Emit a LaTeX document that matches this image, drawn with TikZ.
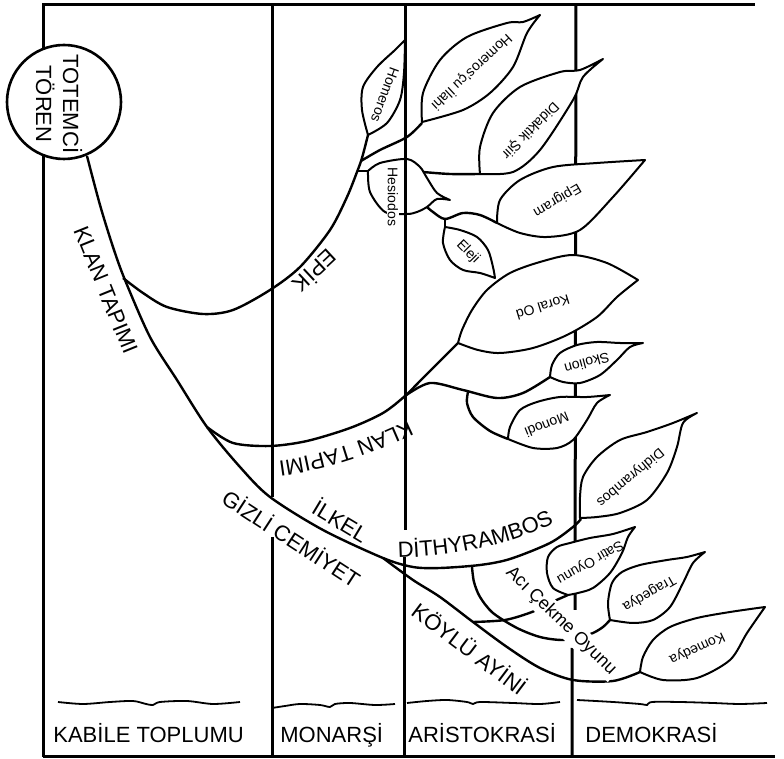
\documentclass[tikz,border=0pt]{standalone}
\usepackage{fontspec}
\setmainfont{Liberation Sans}
\usetikzlibrary{decorations.text}
\newcommand{\bigtxt}{\fontsize{11}{13.5}\selectfont}
\newcommand{\leaftxt}{\fontsize{7}{8}\selectfont}

\begin{document}
\begin{tikzpicture}[x=0.5pt, y=-0.5pt,
    frame/.style={line width=1.5pt},
    branch/.style={line width=1.2pt, line join=round},
    leaf/.style={draw, line width=1pt, fill=white, line join=round},
    wave/.style={line width=0.9pt},
    period/.style={font=\bigtxt, anchor=base west, inner sep=0pt},
    biglbl/.style={font=\bigtxt, inner sep=1pt},
    leaflbl/.style={font=\leaftxt, inner sep=0.5pt}]

    \useasboundingbox (0,0) rectangle (784,759);

    %% -- frame and period columns --
    \draw[frame] (43,757) -- (43,5) -- (755,5);
    \draw[frame] (43,757) -- (775,757);
    \draw[frame] (272,5) -- (272,497) (272,537) -- (272,757);
    \draw[frame] (405,5) -- (405,530) (404,557) -- (404,757);
    \draw[frame] (576,5) -- (575,610) (572,648) -- (572,757);

    %% -- ground lines --
    \draw[wave] plot[smooth] coordinates {(58,702) (83,704) (110,702) (133,701) (146,704) (153,705) (160,702) (187,701) (213,704) (240,702)};
    \draw[wave] plot[smooth] coordinates {(272,708) (285,706) (300,704) (320,705) (330,707) (335,704) (350,703) (375,705) (395,704)};
    \draw[wave] plot[smooth] coordinates {(407,703) (427,701) (447,700) (467,702) (473,704) (480,702) (513,703) (540,704) (560,702)};
    \draw[wave] plot[smooth] coordinates {(577,700) (613,702) (640,704) (647,705) (652,702) (680,702) (713,703) (740,704) (767,703)};

    %% -- totem circle --
    \node[circle, draw, fill=white, line width=1.3pt, minimum size=57pt, inner sep=0pt] (totem) at (64,102) {};
    \node[biglbl, rotate=-90, align=center] (totemtxt) at (59,104) {TOTEMCİ\\TÖREN};

    %% -- main stems --
    \draw[branch] plot[smooth] coordinates {(87,156) (100,205) (113,247) (125,280) (150,337) (177,380) (207,427) (240,467) (270,497) (323,530) (383,558) (413,567) (440,568) (480,565) (510,559) (550,543) (573,527) (581,519)};
    \draw[branch] plot[smooth] coordinates {(123,278) (143,293) (167,307) (203,314) (233,310) (270,290) (300,267) (330,230) (347,197) (357,172) (362,158) (368,135)};
    \draw[branch] plot[smooth] coordinates {(207,427) (233,443) (270,446) (307,441) (350,428) (383,413) (405,396) (420,381) (440,361) (458,343)};
    \draw[branch] plot[smooth] coordinates {(383,558) (413,580) (440,597) (473,622) (507,647) (540,668) (573,680) (613,681) (640,672)};

    %% -- side stems --
    \draw[branch] (357,171) -- (368,171);
    \draw[branch] plot[smooth] coordinates {(361,161) (380,150) (407,137) (422,123)};
    \draw[branch] plot[smooth] coordinates {(423,172) (450,174) (480,174)};
    \draw[branch] plot[smooth] coordinates {(427,207) (433,212) (445,219) (463,213) (480,215) (497,223)};
    \draw[branch] (445,219) -- (445,227);
    \draw[branch] plot[smooth] coordinates {(405,396) (430,383) (463,390) (497,398) (523,393) (550,377)};
    \draw[branch] plot[smooth] coordinates {(468,392) (467,403) (473,417) (490,431) (508,439)};
    \draw[branch] plot[smooth] coordinates {(473,622) (505,620) (532,612) (550,603) (568,595)};
    \draw[branch] plot[smooth] coordinates {(472,567) (474,582) (480,597) (493,613) (517,628) (540,637) (562,640) (580,637) (593,633) (603,627) (610,620)};

    %% -- leaves --
    \draw[leaf] plot[smooth] coordinates {(368,135) (362,110) (363,87) (377,67) (395,50) (405,40)}
        -- plot[smooth] coordinates {(405,40) (404,73) (400,100) (387,123) (368,135)} -- cycle;
    \draw[leaf] plot[smooth] coordinates {(422,122) (423,93) (440,60) (467,37) (507,23) (523,22) (540,15)}
        -- plot[smooth] coordinates {(540,15) (527,33) (513,67) (490,93) (463,110) (422,122)} -- cycle;
    \draw[leaf] plot[smooth] coordinates {(480,174) (480,147) (493,113) (520,87) (560,72) (580,70) (603,59)}
        -- plot[smooth] coordinates {(603,59) (583,77) (573,100) (540,150) (513,172) (480,174)} -- cycle;
    \draw[leaf, fill=none] plot[smooth] coordinates {(368,171) (380,163) (407,159) (420,167) (427,178) (437,193) (450,200)}
        -- plot[smooth] coordinates {(450,200) (437,199) (427,207) (417,212) (407,214) (385,212) (370,192) (368,171)} -- cycle;
    \draw[leaf] plot[smooth] coordinates {(445,227) (443,243) (450,260) (463,270) (480,273) (495,278)}
        -- plot[smooth] coordinates {(495,278) (493,267) (488,250) (477,237) (460,230) (445,227)} -- cycle;
    \draw[leaf] plot[smooth] coordinates {(497,223) (500,200) (520,180) (553,167) (597,163) (645,160)}
        -- plot[smooth] coordinates {(645,160) (613,197) (580,230) (547,237) (520,233) (497,223)} -- cycle;
    \draw[leaf] plot[smooth] coordinates {(458,343) (462,330) (472,310) (487,290) (510,273) (540,262) (573,255) (607,263) (638,280)}
        -- plot[smooth] coordinates {(638,280) (617,297) (597,317) (567,335) (533,348) (500,353) (478,350) (458,343)} -- cycle;
    \draw[leaf] plot[smooth] coordinates {(550,377) (552,365) (560,353) (577,345) (597,342) (620,343) (643,343)}
        -- plot[smooth] coordinates {(643,343) (630,347) (617,360) (600,375) (580,383) (563,382) (550,377)} -- cycle;
    \draw[leaf] plot[smooth] coordinates {(508,439) (510,427) (520,410) (537,402) (560,397) (587,397) (610,395)}
        -- plot[smooth] coordinates {(610,395) (597,403) (587,420) (573,440) (557,448) (533,448) (508,439)} -- cycle;
    \draw[leaf] plot[smooth] coordinates {(580,518) (580,497) (583,477) (597,457) (620,440) (647,432) (673,423) (697,413)}
        -- plot[smooth] coordinates {(697,413) (683,423) (677,447) (667,473) (647,500) (620,513) (597,517) (580,518)} -- cycle;
    \draw[leaf] plot[smooth] coordinates {(568,595) (553,588) (547,573) (548,557) (557,547) (570,543) (590,538) (613,534) (635,527)}
        -- plot[smooth] coordinates {(635,527) (628,537) (622,553) (610,573) (593,588) (578,593) (568,595)} -- cycle;
    \draw[leaf] plot[smooth] coordinates {(610,620) (608,603) (612,583) (622,572) (640,565) (667,560) (687,557) (705,552)}
        -- plot[smooth] coordinates {(705,552) (693,563) (683,583) (670,607) (653,620) (633,623) (610,620)} -- cycle;
    \draw[leaf] plot[smooth] coordinates {(640,672) (643,657) (653,640) (670,627) (697,618) (730,612) (765,607)}
        -- plot[smooth] coordinates {(765,607) (747,633) (730,660) (697,678) (663,680) (640,672)} -- cycle;

    %% -- leaf labels --
    \node[leaflbl, rotate=-110] (homeros) at (385,95) {Homeros};
    \node[leaflbl, rotate=-137] (ilahi) at (472,72) {Homeros'çu İlahi};
    \node[leaflbl, rotate=-135] (didaktik) at (530,130) {Didaktik Şiir};
    \node[leaflbl, rotate=-90, fill=white] (hesiodos) at (393,197) {Hesiodos};
    \node[leaflbl, rotate=-150] (epigram) at (557,200) {Epigram};
    \node[leaflbl, rotate=-45] (eleji) at (468,252) {Eleji};
    \node[leaflbl, rotate=-163] (koral) at (543,307) {Koral Od};
    \node[leaflbl, rotate=-165] (skolion) at (587,363) {Skolion};
    \node[leaflbl, rotate=-158] (monodi) at (547,425) {Monodi};
    \node[leaflbl, rotate=-140] (didhy) at (630,477) {Didhyrambos};
    \node[leaflbl, rotate=-150] (satir) at (590,562) {Satir Oyunu};
    \node[leaflbl, rotate=-150] (tragedya) at (649,593) {Tragedya};
    \node[leaflbl, rotate=-155] (komedya) at (697,648) {Komedya};

    %% -- stem labels --
    \node[biglbl, rotate=-68] (klanA) at (106,290) {KLAN TAPIMI};
    \node[biglbl, rotate=-137] (epik) at (316,272) {EPİK};
    \path[decorate, decoration={text along path, text align=center, text={|\bigtxt|KLAN TAPIMI}}]
        (425,412) .. controls (378,436) and (322,458) .. (260,463);
    \node[biglbl, rotate=-33] (gizli) at (292,538) {GİZLİ CEMİYET};
    \node[biglbl, rotate=-31] (ilkel) at (341,520) {İLKEL};
    \path[decorate, decoration={text along path, text align=center, text={|\bigtxt|DİTHYRAMBOS}}]
        (385,558) .. controls (450,558) and (510,547) .. (566,517);
    \node[biglbl, rotate=-37] (koylu) at (470,648) {KÖYLÜ AYİNİ};
    \node[font=\fontsize{9}{10}\selectfont, rotate=-44, fill=white, inner sep=1.5pt] (aci) at (561,621) {Acı Çekme Oyunu};

    %% -- periods --
    \node[period] (kabile) at (53,743) {KABİLE TOPLUMU};
    \node[period] (monarsi) at (280,743) {MONARŞİ};
    \node[period] (aristo) at (408,743) {ARİSTOKRASİ};
    \node[period] (demo) at (585,743) {DEMOKRASİ};

\end{tikzpicture}
\end{document}
